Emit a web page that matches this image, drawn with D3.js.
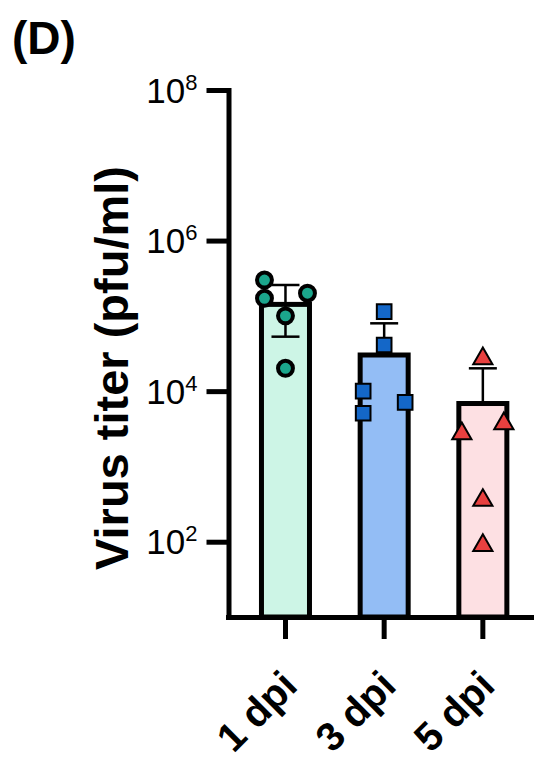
<!DOCTYPE html>
<html>
<head>
<meta charset="utf-8">
<script src="https://cdn.jsdelivr.net/npm/d3@7"></script>
<style>
  body { margin: 0; background: #fff; }
  svg { display: block; font-family: "Liberation Sans", Arial, sans-serif; }
</style>
</head>
<body>
<div id="chart"></div>
<script>
// data (virus titer, pfu/ml)
const groups = ['1 dpi', '3 dpi', '5 dpi'];
const means = [1.42e5, 3.02e4, 6.85e3];
const errUpper = [2.57e5, 7.96e4, 2.01e4];
const errLower = [5.29e4, null, null];
const points = [
    [2.99e5, 1.71e5, 2.0e5, 1.0e5, 2.01e4],
    [1.14e5, 4.1e4, 1.0e4, 5.08e3, 7.1e3],
    [2.87e4, 2.9e3, 3.93e3, 378, 95]
];
const yTicks = [1e2, 1e4, 1e6, 1e8];

// layout / style
const width = 534, height = 762;
const jitter = [   // horizontal scatter offsets (px) so points don't overlap
    [-21, -21, 22, 0, 0],
    [0, 0, -21, -21, 21],
    [0, -21, 21, 0, 0]
];
const barFill = ['#cdf5e6', '#93bdf5', '#fde0e3'];
const markerFill = ['#1ba68c', '#1467c8', '#e8403f'];
const markerType = [d3.symbolCircle, d3.symbolSquare, d3.symbolTriangle];

const svg = d3.select('#chart')
    .append('svg')
    .attr('width', width)
    .attr('height', height);

const y = d3.scaleLog()
    .domain([10, 1e8])
    .range([617, 90]);

const x = d3.scaleBand()
    .domain(groups)
    .range([228, 532])
    .paddingInner(0.5135)
    .paddingOuter(0.297)
    .align(0.571);

const cx = d => x(d) + x.bandwidth() / 2;

// panel letter
svg.append('text')
    .attr('x', 12)
    .attr('y', 54)
    .style('font-weight', 'bold')
    .style('font-size', '46px')
    .text('(D)');

// bars
svg.selectAll('rect.bar')
    .data(groups).enter()
    .append('rect')
    .attr('class', 'bar')
    .attr('x', d => x(d))
    .attr('width', x.bandwidth())
    .attr('y', (d, i) => y(means[i]))
    .attr('height', (d, i) => y(10) - y(means[i]))
    .attr('fill', (d, i) => barFill[i])
    .attr('stroke', '#000')
    .attr('stroke-width', 5);

// error bars
const capW = 28;
groups.forEach((g, i) => {
    const c = cx(g);
    const lo = errLower[i] === null ? means[i] : errLower[i];
    svg.append('line')
        .attr('x1', c).attr('x2', c)
        .attr('y1', y(errUpper[i])).attr('y2', y(lo))
        .attr('stroke', '#000').attr('stroke-width', 2.5);
    [errUpper[i], errLower[i]].forEach(v => {
        if (v === null) return;
        svg.append('line')
            .attr('x1', c - capW / 2).attr('x2', c + capW / 2)
            .attr('y1', y(v)).attr('y2', y(v))
            .attr('stroke', '#000').attr('stroke-width', 2.5);
    });
});

// individual points
groups.forEach((g, i) => {
    const sym = d3.symbol().type(markerType[i])
        .size(i === 0 ? 175 : (i === 1 ? 215 : 160));
    svg.selectAll('path.pt' + i)
        .data(points[i]).enter()
        .append('path')
        .attr('class', 'pt' + i)
        .attr('d', sym)
        .attr('transform', (d, j) => {
            const dy = i === 2 ? 2 : 0;
            return 'translate(' + (cx(g) + jitter[i][j]) + ',' + (y(d) + dy) + ')';
        })
        .attr('fill', markerFill[i])
        .attr('stroke', '#000')
        .attr('stroke-width', i === 0 ? 4 : 2);
});

// y axis
const yAxis = svg.append('g')
    .attr('transform', 'translate(228.5,0)')
    .call(d3.axisLeft(y).tickValues(yTicks).tickSize(22).tickSizeOuter(0).tickFormat(''));

yAxis.select('.domain')
    .attr('stroke-width', 5)
    .attr('stroke-linecap', 'square');
yAxis.selectAll('.tick line').attr('stroke-width', 5);

yAxis.selectAll('.tick').each(function(d) {
    const t = d3.select(this).append('text')
        .attr('x', -31)
        .attr('y', 12)
        .attr('fill', '#000')
        .attr('text-anchor', 'end')
        .style('font-size', '35px');
    t.append('tspan').text('10');
    t.append('tspan')
        .attr('dy', -13)
        .style('font-size', '22px')
        .text(Math.round(Math.log10(d)));
});

// x axis
const xAxis = svg.append('g')
    .attr('transform', 'translate(0,617)')
    .call(d3.axisBottom(x).tickSize(22).tickSizeOuter(0).tickFormat(''));

xAxis.select('.domain')
    .attr('stroke-width', 5)
    .attr('stroke-linecap', 'square');
xAxis.selectAll('.tick line').attr('stroke-width', 5);

svg.selectAll('text.xlab')
    .data(groups).enter()
    .append('text')
    .attr('class', 'xlab')
    .attr('text-anchor', 'end')
    .attr('transform', d => 'translate(' + (cx(d) + 14) + ',688)rotate(-45)')
    .style('font-weight', 'bold')
    .style('font-size', '40px')
    .text(d => d);

// y axis title
svg.append('text')
    .attr('text-anchor', 'middle')
    .attr('transform', 'translate(128,368)rotate(-90)')
    .style('font-weight', 'bold')
    .style('font-size', '47px')
    .text('Virus titer (pfu/ml)');
</script>
</body>
</html>
